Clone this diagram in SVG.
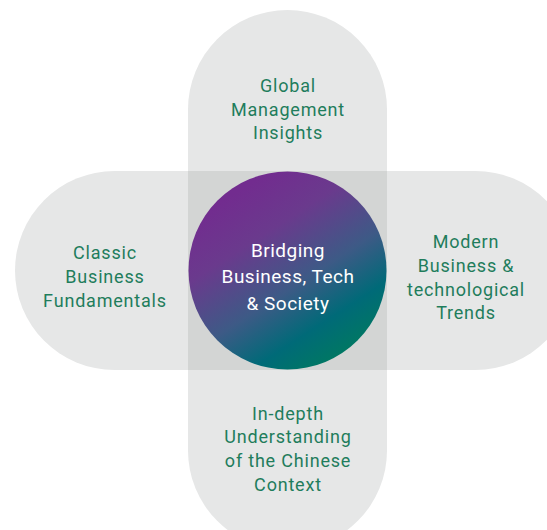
<svg xmlns="http://www.w3.org/2000/svg" width="547" height="530" viewBox="0 0 547 530">
<defs>
<linearGradient id="g" x1="0.25" y1="0.1" x2="0.8" y2="0.95">
<stop offset="0" stop-color="#722c8f"/>
<stop offset="0.25" stop-color="#6a3a8d"/>
<stop offset="0.55" stop-color="#3d5a86"/>
<stop offset="0.78" stop-color="#006a78"/>
<stop offset="1" stop-color="#007a5f"/>
</linearGradient>
<style>
.lbl{font-family:Roboto,"Liberation Sans",sans-serif;font-size:18px;fill:#1f7d5c;text-anchor:middle;letter-spacing:0.8px}
.ctr{font-family:Roboto,"Liberation Sans",sans-serif;font-size:19px;fill:#ffffff;text-anchor:middle;letter-spacing:0.5px}
.pill{fill:#e6e7e7}
</style>
</defs>
<g id="shapes">
<rect class="pill" x="188" y="10" width="199" height="540" rx="99.5"/>
<rect class="pill" x="15" y="171" width="560" height="199" rx="99.5"/>
<rect x="188" y="171" width="199" height="199" fill="#d3d5d4"/>
</g>
<g id="connectors"></g>
<g id="center">
<circle cx="287.5" cy="270.5" r="99" fill="url(#g)"/>
<text class="ctr" x="288" y="257">Bridging</text>
<text class="ctr" x="288" y="283">Business, Tech</text>
<text class="ctr" x="288" y="310">&amp; Society</text>
</g>
<g id="top">
<text class="lbl" x="288" y="92">Global</text>
<text class="lbl" x="288" y="115.5">Management</text>
<text class="lbl" x="288" y="139">Insights</text>
</g>
<g id="left">
<text class="lbl" x="105" y="259">Classic</text>
<text class="lbl" x="105" y="283">Business</text>
<text class="lbl" x="105" y="307">Fundamentals</text>
</g>
<g id="right">
<text class="lbl" x="466" y="248">Modern</text>
<text class="lbl" x="466" y="272">Business &amp;</text>
<text class="lbl" x="466" y="296">technological</text>
<text class="lbl" x="466" y="319">Trends</text>
</g>
<g id="bottom">
<text class="lbl" x="288" y="420">In-depth</text>
<text class="lbl" x="288" y="443">Understanding</text>
<text class="lbl" x="288" y="467">of the Chinese</text>
<text class="lbl" x="288" y="491">Context</text>
</g>
</svg>
